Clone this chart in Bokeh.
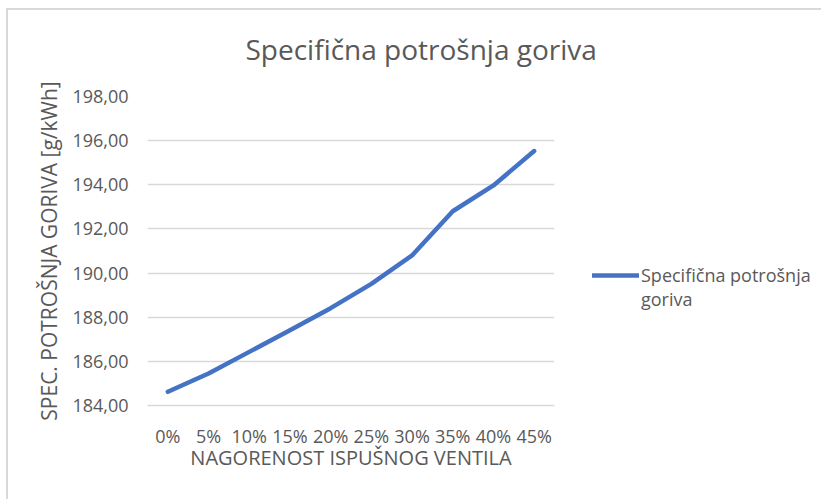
from bokeh.plotting import figure
from bokeh.layouts import row, column
from bokeh.models import (FactorRange, FixedTicker, CustomJSTickFormatter, Legend, LegendItem,
                          Range1d, Label)
from bokeh.embed import file_html
from bokeh.resources import INLINE

categories = ["0%", "5%", "10%", "15%", "20%", "25%", "30%", "35%", "40%", "45%"]
values = [184.62, 185.45, 186.43, 187.41, 188.41, 189.51, 190.80, 192.80, 193.97, 195.53]
y_ticks = [184, 186, 188, 190, 192, 194, 196, 198]

title_text = "Specifična potrošnja goriva"
series_name_lines = ["Specifična potrošnja", "goriva"]
x_title = "NAGORENOST ISPUŠNOG VENTILA"
y_title = "SPEC. POTROŠNJA GORIVA [g/kWh]"

FONT = "Open Sans"
TXT = "#595959"
GRID = "#d9d9d9"
LINE = "#4472C4"


def bare(fig):
    fig.grid.visible = False
    fig.outline_line_color = None
    fig.background_fill_color = "white"
    fig.border_fill_color = "white"


def strip(w, h):
    f = figure(width=w, height=h, x_range=Range1d(0, 1), y_range=Range1d(0, 1),
               x_axis_location=None, y_axis_location=None,
               output_backend="svg", toolbar_location=None,
               min_border_left=0, min_border_right=0, min_border_top=0, min_border_bottom=0)
    bare(f)
    return f


# title strip
t = strip(813, 66)
t.add_layout(Label(x=237, y=28, x_units="screen", y_units="screen", text=title_text,
                   text_font=FONT, text_font_size="28px", text_color=TXT,
                   text_baseline="alphabetic", text_align="left"))

# main chart
p = figure(width=566, height=423, x_range=FactorRange(factors=categories, range_padding=0),
           y_range=(184, 198), output_backend="svg", toolbar_location=None,
           min_border_left=139, min_border_right=20, min_border_top=20, min_border_bottom=94)
p.outline_line_color = None
p.background_fill_color = "white"
p.border_fill_color = "white"

p.xgrid.grid_line_color = None
p.ygrid.grid_line_color = GRID
p.ygrid.grid_line_width = 1.5

p.yaxis.ticker = FixedTicker(ticks=y_ticks)
p.yaxis.formatter = CustomJSTickFormatter(code="return tick.toFixed(2).replace('.', ',');")
p.yaxis.axis_line_color = None
p.yaxis.major_tick_line_color = None
p.yaxis.minor_tick_line_color = None
p.yaxis.major_tick_out = 0
p.yaxis.major_label_standoff = 19
p.yaxis.axis_label = y_title
p.yaxis.axis_label_standoff = 6

p.xaxis.axis_line_color = GRID
p.xaxis.axis_line_width = 1.5
p.xaxis.major_tick_line_color = None
p.xaxis.minor_tick_line_color = None
p.xaxis.major_tick_out = 0
p.xaxis.major_label_standoff = 18
p.xaxis.axis_label = x_title
p.xaxis.axis_label_standoff = -7

for ax in (p.xaxis, p.yaxis):
    ax.major_label_text_font = FONT
    ax.major_label_text_font_size = "18px"
    ax.major_label_text_color = TXT
    ax.axis_label_text_font = FONT
    ax.axis_label_text_font_size = "20px"
    ax.axis_label_text_font_style = "normal"
    ax.axis_label_text_color = TXT
p.yaxis.axis_label_text_font_size = "21px"

p.line(x=categories, y=values, line_color=LINE, line_width=4.5,
       line_cap="round", line_join="round")

# legend panel (series drawn out of view; only its legend entry shows)
q = strip(247, 423)
idx = list(range(len(values)))
lr = q.line(x=idx, y=values, line_color=LINE, line_width=4.5, line_cap="round")
lr_blank = q.line(x=idx, y=values, line_alpha=0)

legend = Legend(items=[LegendItem(label=series_name_lines[0], renderers=[lr]),
                       LegendItem(label=series_name_lines[1], renderers=[lr_blank])],
                location=(18, 94), orientation="vertical",
                glyph_width=47, glyph_height=22, label_standoff=2,
                padding=0, margin=0, spacing=0,
                border_line_color=None, background_fill_alpha=0,
                label_text_font=FONT, label_text_font_size="18px", label_text_color=TXT)
q.add_layout(legend)

layout = column(t, row(p, q, spacing=0), spacing=0,
                styles={"margin-top": "8px", "margin-left": "6px",
                        "border-top": "2px solid #d9d9d9", "border-left": "2px solid #d9d9d9"})

open("out.html", "w").write(file_html(layout, INLINE))
